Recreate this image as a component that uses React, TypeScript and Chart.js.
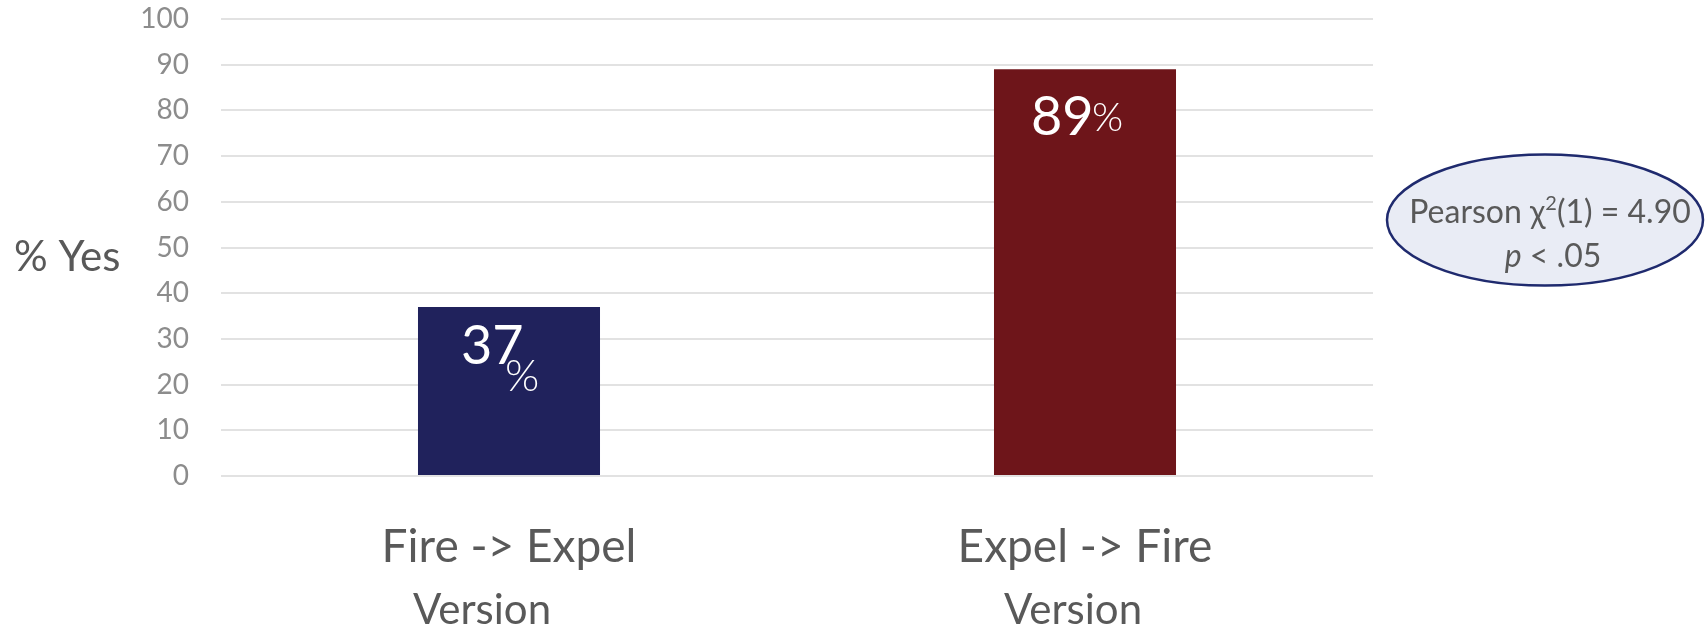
import React, { useEffect, useRef } from 'react';
import { Chart, registerables } from 'chart.js';

Chart.register(...registerables);

// ---- data ----
const categories: string[] = ['Fire -> Expel', 'Expel -> Fire'];
const percentYes: number[] = [37, 89];
const barColors: string[] = ['#20225C', '#6E151A'];
const yTickMin = 0;
const yTickMax = 100;
const yTickStep = 10;
const yAxisLabel = '% Yes';
const xAxisSubLabel = 'Version';
const statLineA = 'Pearson \u03C7';
const statSup = '2';
const statLineB = '(1) = 4.90';
const statP = 'p';
const statPRest = ' < .05';

// ---- layout / style constants ----
const W = 1705;
const H = 630;
const FONT = 'Lato, "Open Sans", sans-serif';
const TEXT = '#595959';
// value label offsets relative to bar top-centre
const digitDx = [-48, -54];
const digitDy = [57, 66];
const pctDx = [-4, 7];
const pctDy = [84, 62];
const pctSize = [44, 40];
const versionDx = [-27, -12];

export default function App() {
  const ref = useRef<HTMLCanvasElement>(null);

  useEffect(() => {
    document.body.style.margin = '0';
    const canvas = ref.current;
    if (!canvas) return;

    const overlay = {
      id: 'overlay',
      afterDraw(chart: any) {
        const ctx = chart.ctx as CanvasRenderingContext2D;
        const xs = chart.scales.x;
        const ys = chart.scales.y;
        const meta = chart.getDatasetMeta(0);
        ctx.save();

        // y-axis label (horizontal)
        ctx.fillStyle = TEXT;
        ctx.textAlign = 'left';
        ctx.textBaseline = 'alphabetic';
        ctx.font = `400 42px ${FONT}`;
        ctx.fillText(yAxisLabel, 14, 271);

        // category labels + "Version"
        categories.forEach((c, i) => {
          const cx = xs.getPixelForValue(i);
          ctx.textAlign = 'center';
          ctx.fillStyle = TEXT;
          ctx.font = `400 46px ${FONT}`;
          ctx.fillText(c, cx, 562);
          ctx.font = `400 42px ${FONT}`;
          ctx.fillText(xAxisSubLabel, cx + versionDx[i], 624);
        });

        // value labels inside bars
        percentYes.forEach((v, i) => {
          const el = meta.data[i];
          const bx = el.x;
          const by = el.y;
          ctx.fillStyle = '#ffffff';
          ctx.textAlign = 'left';
          ctx.font = `400 54px ${FONT}`;
          ctx.fillText(String(v), bx + digitDx[i], by + digitDy[i]);
          ctx.font = `300 ${pctSize[i]}px ${FONT}`;
          ctx.fillText('%', bx + pctDx[i], by + pctDy[i]);
        });

        // stats ellipse
        const ecx = 1545;
        const ecy = ys.getPixelForValue(56);
        ctx.beginPath();
        ctx.ellipse(ecx, ecy, 158, 65.5, 0, 0, Math.PI * 2);
        ctx.fillStyle = '#E9ECF5';
        ctx.fill();
        ctx.lineWidth = 2.5;
        ctx.strokeStyle = '#1F2A6E';
        ctx.stroke();

        ctx.fillStyle = TEXT;
        ctx.textAlign = 'left';
        const mainFont = `400 32px ${FONT}`;
        const supFont = `400 20px ${FONT}`;
        ctx.font = mainFont;
        const wA = ctx.measureText(statLineA).width;
        const wB = ctx.measureText(statLineB).width;
        ctx.font = supFont;
        const wS = ctx.measureText(statSup).width;
        const total = wA + wS + wB;
        const x0 = 1550 - total / 2;
        ctx.font = mainFont;
        ctx.fillText(statLineA, x0, 223);
        ctx.font = supFont;
        ctx.fillText(statSup, x0 + wA, 210);
        ctx.font = mainFont;
        ctx.fillText(statLineB, x0 + wA + wS, 223);

        const pFont = `italic 400 32px ${FONT}`;
        ctx.font = pFont;
        const wP = ctx.measureText(statP).width;
        ctx.font = mainFont;
        const wR = ctx.measureText(statPRest).width;
        const x1 = 1553 - (wP + wR) / 2;
        ctx.font = pFont;
        ctx.fillText(statP, x1, 267);
        ctx.font = mainFont;
        ctx.fillText(statPRest, x1 + wP, 267);

        ctx.restore();
      },
    };

    const chart = new Chart(canvas, {
      type: 'bar',
      data: {
        labels: categories,
        datasets: [
          {
            data: percentYes,
            backgroundColor: barColors,
            borderWidth: 0,
            categoryPercentage: 1,
            barPercentage: 0.316,
          },
        ],
      },
      options: {
        responsive: false,
        animation: false,
        layout: { padding: { left: 0, top: 19, right: 332, bottom: 154 } },
        plugins: {
          legend: { display: false },
          tooltip: { enabled: false },
        },
        scales: {
          x: {
            display: false,
          },
          y: {
            min: yTickMin,
            max: yTickMax,
            ticks: {
              stepSize: yTickStep,
              color: '#8C8C8C',
              font: { family: FONT, size: 28 },
              padding: 32,
            },
            grid: { color: '#E2E2E2', lineWidth: 2, drawTicks: false },
            border: { display: false },
            afterFit: (s: any) => {
              s.width = 221;
              s.paddingTop = 17;
              s.paddingBottom = 17;
            },
          },
        },
      },
      plugins: [overlay],
    });

    return () => chart.destroy();
  }, []);

  return <canvas ref={ref} width={W} height={H} style={{ display: 'block' }} />;
}
